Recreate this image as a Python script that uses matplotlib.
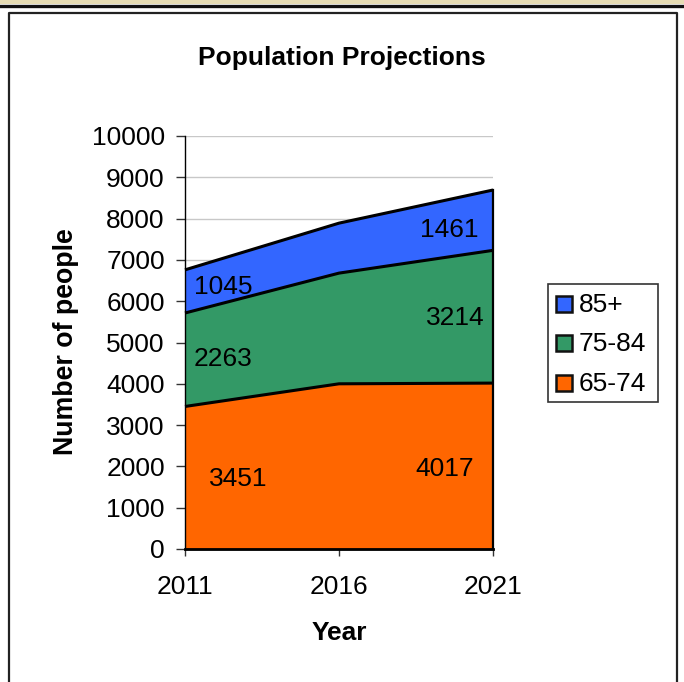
import matplotlib
matplotlib.use('Agg')
import matplotlib.pyplot as plt
from matplotlib.patches import Rectangle
from matplotlib.lines import Line2D

W, H = 684, 682

years = ['2011', '2016', '2021']
age_65_74 = [3451, 4000, 4017]
age_75_84 = [2263, 2680, 3214]
age_85_up = [1045, 1210, 1461]
legend_names = ['85+', '75-84', '65-74']
yticks = list(range(0, 10001, 1000))

# (x position in years index, y value, text)
notes_x = [0.344, 0.247, 0.247, 1.685, 1.753, 1.714]
notes_y = [1695, 4600, 6340, 1935, 5590, 7720]
notes_txt = ['3451', '2263', '1045', '4017', '3214', '1461']

orange = '#ff6600'
green = '#339966'
blue = '#3366ff'
fs = 19

plt.rcParams['font.family'] = ['Liberation Sans', 'DejaVu Sans']

fig = plt.figure(figsize=(W / 100, H / 100), dpi=100)
fig.patch.set_facecolor('white')

# outer frame and the edge of the page above it
bg = fig.add_axes([0, 0, 1, 1])
bg.set_xlim(0, W)
bg.set_ylim(H, 0)
bg.axis('off')
bg.add_patch(Rectangle((0, 0), W, 4, fc='#e6dcb4', ec='none'))
bg.add_line(Line2D([0, W - 2], [5.5, 5.5], color='#111111', lw=2.4))
bg.add_line(Line2D([8.5, 8.5, 677, 677], [H, 12.5, 12.5, H], color='#222222', lw=1.6))

ax = fig.add_axes([185 / W, 1 - 549 / H, (493 - 185) / W, (549 - 136) / H])
x = [0, 1, 2]
bottom1 = age_65_74
bottom2 = [a + b for a, b in zip(age_65_74, age_75_84)]
top = [a + b for a, b in zip(bottom2, age_85_up)]

ax.fill_between(x, 0, bottom1, color=orange, lw=0)
ax.fill_between(x, bottom1, bottom2, color=green, lw=0)
ax.fill_between(x, bottom2, top, color=blue, lw=0)
for line in (bottom1, bottom2, top):
    ax.plot(x, line, color='black', lw=2.2, solid_capstyle='butt', clip_on=False, zorder=3)
ax.plot([2, 2], [0, top[2]], color='black', lw=1.6, zorder=3, clip_on=False)
ax.plot([0, 2], [0, 0], color='black', lw=2, zorder=3, clip_on=False)

ax.set_xlim(0, 2)
ax.set_ylim(0, 10000)
ax.set_yticks(yticks)
ax.set_xticks(x)
ax.set_xticklabels(years)
ax.grid(axis='y', color='#c8c8c8', lw=1)
ax.set_axisbelow(True)
for s in ('top', 'right'):
    ax.spines[s].set_visible(False)
ax.spines['left'].set_linewidth(1)
ax.spines['bottom'].set_linewidth(1)
ax.tick_params(axis='y', labelsize=fs, length=6.5, width=1, pad=8, color='#333333')
ax.tick_params(axis='x', labelsize=fs, length=5, width=1, pad=14, color='#333333', direction='out')

for nx, ny, t in zip(notes_x, notes_y, notes_txt):
    ax.text(nx, ny, t, fontsize=fs, ha='center', va='center', color='black', zorder=4)

fig.text(342 / W, 1 - 58.5 / H, 'Population Projections', fontsize=fs, fontweight='bold',
         ha='center', va='center')
fig.text(339 / W, 1 - 633.5 / H, 'Year', fontsize=fs, fontweight='bold', ha='center', va='center')
fig.text(66 / W, 1 - 342 / H, 'Number of people', fontsize=19.3, fontweight='bold',
         rotation=90, ha='center', va='center')

# legend box drawn by hand to get the spacing of the original
bg.set_zorder(-1)
lg = fig.add_axes([0, 0, 1, 1], facecolor='none')
lg.set_xlim(0, W)
lg.set_ylim(H, 0)
lg.axis('off')
lg.add_patch(Rectangle((547.5, 283.5), 110, 118, fc='white', ec='#333333', lw=1.2))
for name, col, cy in zip(legend_names, [blue, green, orange], [304, 343, 383]):
    lg.add_patch(Rectangle((556, cy - 8), 16, 16, fc=col, ec='#111111', lw=1.8))
    lg.text(579, cy + 1, name, fontsize=fs, ha='left', va='center')

fig.savefig('out.png', dpi=100)
